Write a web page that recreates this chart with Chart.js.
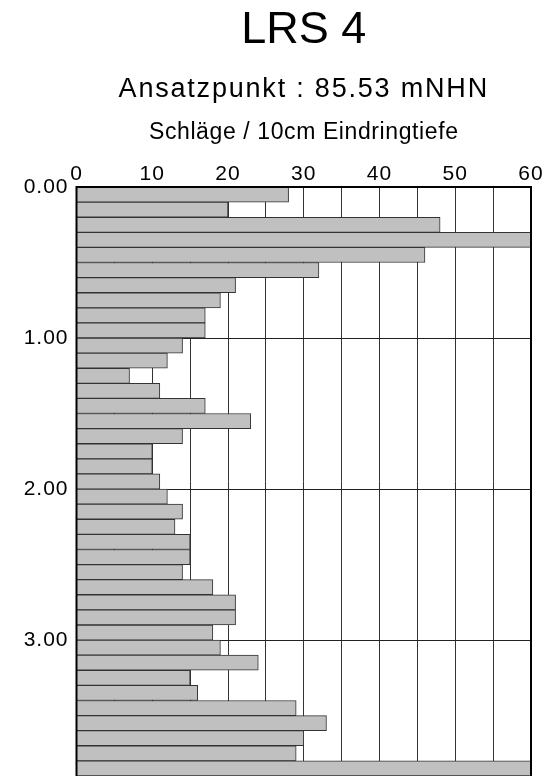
<!DOCTYPE html>
<html><head><meta charset="utf-8">
<script src="https://cdn.jsdelivr.net/npm/chart.js@4/dist/chart.umd.min.js"></script>
<style>html,body{margin:0;padding:0;background:#fff;overflow:hidden}#wrap{position:relative;width:547px;height:776px}</style>
</head><body><div id="wrap"><canvas id="c" width="547" height="776"></canvas></div>
<script>
const chartTitle = 'LRS 4';
const chartSubtitle = 'Ansatzpunkt : 85.53 mNHN';
const axisTitle = 'Schläge / 10cm Eindringtiefe';
// depth of top of each 10 cm layer (m)
const depthTop = [0.0,0.1,0.2,0.3,0.4,0.5,0.6,0.7,0.8,0.9,1.0,1.1,1.2,1.3,1.4,1.5,1.6,1.7,1.8,1.9,2.0,2.1,2.2,2.3,2.4,2.5,2.6,2.7,2.8,2.9,3.0,3.1,3.2,3.3,3.4,3.5,3.6,3.7,3.8];
// blows per 10 cm
const blows = [28,20,48,60,46,32,21,19,17,17,14,12,7,11,17,23,14,10,10,11,12,14,13,15,15,14,18,21,21,18,19,24,15,16,29,33,30,29,60];
const layerThickness = 0.1;
const depthTicks = [0,1,2,3];
const blowTicks = [0,10,20,30,40,50,60];
const depthMax = 3.9;
const blowMax = 60;

Chart.defaults.font.family = "'Liberation Sans', Arial, Helvetica, sans-serif";
Chart.defaults.color = '#000';

const points = depthTop.map((d, i) => ({ x: blows[i], y: d + layerThickness / 2 }));

const spacingPlugin = {
  id: 'spacing',
  beforeUpdate(chart) { chart.ctx.letterSpacing = '1px'; },
  beforeDraw(chart) { chart.ctx.letterSpacing = '1px'; }
};

const framePlugin = {
  id: 'frame',
  afterDraw(chart) {
    const { ctx, chartArea: a } = chart;
    ctx.save();
    ctx.strokeStyle = '#000';
    ctx.lineWidth = 2;
    ctx.beginPath();
    ctx.moveTo(a.left, a.bottom + 2);
    ctx.lineTo(a.left, a.top);
    ctx.lineTo(a.right, a.top);
    ctx.lineTo(a.right, a.bottom + 2);
    ctx.stroke();
    ctx.restore();
  }
};

const titlesPlugin = {
  id: 'titles',
  afterDraw(chart) {
    const { ctx, chartArea: a } = chart;
    const cx = (a.left + a.right) / 2;
    ctx.save();
    ctx.fillStyle = '#000';
    ctx.textAlign = 'center';
    ctx.textBaseline = 'alphabetic';
    ctx.letterSpacing = '0px';
    ctx.font = "45px 'Liberation Sans', Arial, sans-serif";
    ctx.fillText(chartTitle, cx, 43);
    ctx.font = "27px 'Liberation Sans', Arial, sans-serif";
    ctx.letterSpacing = '1.8px';
    ctx.fillText(chartSubtitle, cx, 97);
    ctx.font = "23px 'Liberation Sans', Arial, sans-serif";
    ctx.letterSpacing = '0.6px';
    ctx.fillText(axisTitle, cx, 139);
    ctx.restore();
  }
};

new Chart(document.getElementById('c'), {
  type: 'bar',
  data: {
    datasets: [{
      data: points,
      backgroundColor: '#c0c0c0',
      borderColor: '#333',
      borderWidth: 1,
      barPercentage: 1,
      categoryPercentage: 1
    }]
  },
  options: {
    indexAxis: 'y',
    responsive: false,
    animation: false,
    layout: { padding: { top: 157, right: 16, left: 0, bottom: 0 } },
    plugins: { legend: { display: false }, tooltip: { enabled: false } },
    scales: {
      x: {
        type: 'linear', position: 'top', min: 0, max: blowMax, z: 1,
        ticks: {
          stepSize: 5, padding: 0, autoSkip: false, maxRotation: 0,
          font: { size: 21 },
          callback: v => blowTicks.includes(v) ? String(v) : ''
        },
        grid: { color: '#333', lineWidth: 1, drawTicks: false },
        border: { display: false },
        afterFit: s => { s.height = 30; s.paddingLeft = 0; s.paddingRight = 0; }
      },
      y: {
        type: 'linear', reverse: true, min: 0, max: depthMax, z: 1,
        offset: false,
        ticks: {
          stepSize: 1, includeBounds: false, padding: 8,
          font: { size: 21 },
          callback: v => depthTicks.includes(v) ? v.toFixed(2) : ''
        },
        grid: { color: '#222', lineWidth: 1, drawTicks: false, offset: false },
        border: { display: false },
        afterFit: s => { s.width = 76.5; s.paddingTop = 0; s.paddingBottom = 0; }
      }
    }
  },
  plugins: [spacingPlugin, framePlugin, titlesPlugin]
});
</script>
</body></html>
